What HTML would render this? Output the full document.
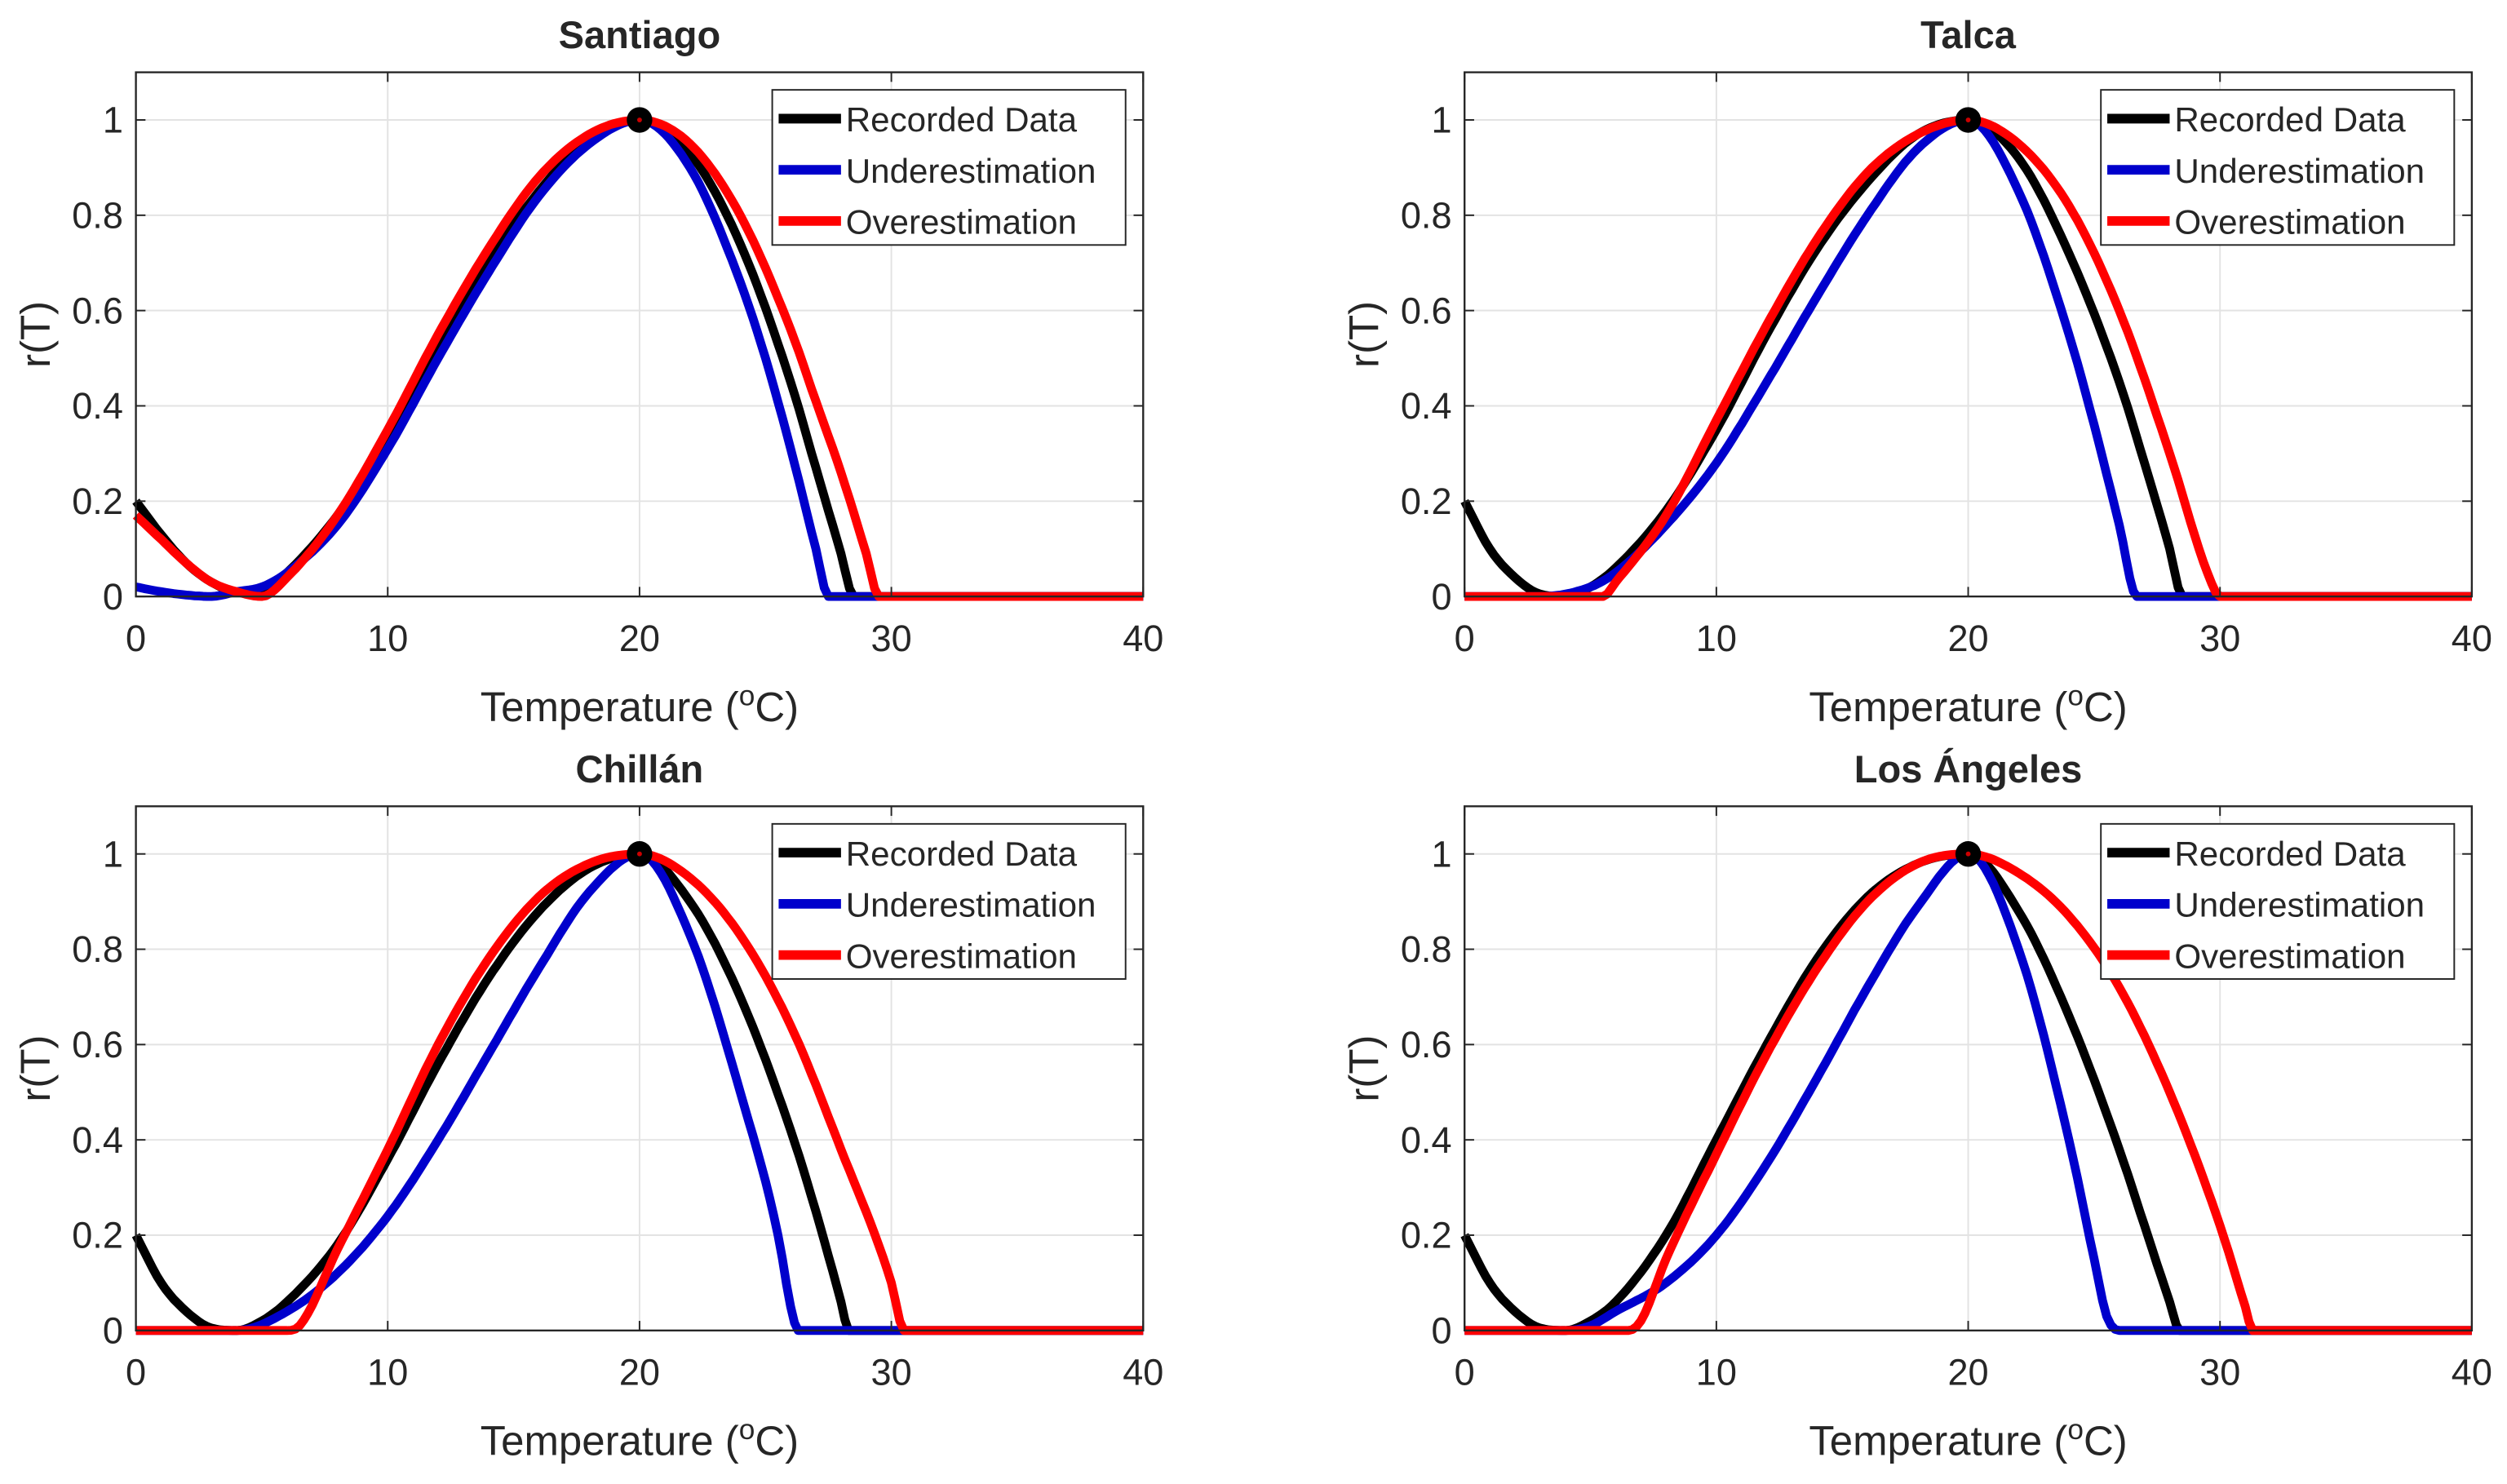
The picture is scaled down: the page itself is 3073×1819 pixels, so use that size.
<!DOCTYPE html>
<html><head><meta charset="utf-8"><style>
html,body{margin:0;padding:0;background:#fff}
svg{display:block}
text{font-family:"Liberation Sans",Arial,sans-serif;fill:#262626}
</style></head><body>
<svg id="fig" width="3073" height="1819" viewBox="0 0 1568 928" preserveAspectRatio="none" xmlns="http://www.w3.org/2000/svg"></svg>
<script>
// ---- data ----
const xTicks = [0,10,20,30,40];
const yTicks = [0,0.2,0.4,0.6,0.8,1];
const yTickLabels = ["0","0.2","0.4","0.6","0.8","1"];
const titles = ["Santiago","Talca","Chillán","Los Ángeles"];
const seriesNames = ["Recorded Data","Underestimation","Overestimation"];

const santRecT = [0,1,2,3,4,5,6,8,10,12,14,16,18,20,22,24,26,27,28,28.5,40];
const santRecR = [0.2,0.13,0.07,0.03,0.01,0.01,0.05,0.17,0.33,0.52,0.7,0.85,0.96,1,0.93,0.74,0.45,0.27,0.09,0,0];
const santUndT = [0,1,2,3,4,5,6,8,10,12,14,16,18,20,22,24,25,26,27,27.5,40];
const santUndR = [0.02,0.01,0.003,0,0.01,0.02,0.05,0.15,0.31,0.5,0.68,0.84,0.95,1,0.9,0.66,0.5,0.31,0.1,0,0];
const santOveT = [0,1,2,3,4,5,6,8,10,12,14,16,18,20,22,24,26,27,28,29,29.5,40];
const santOveR = [0.17,0.12,0.07,0.03,0.01,0.0,0.04,0.17,0.35,0.55,0.73,0.88,0.97,1,0.95,0.8,0.56,0.41,0.26,0.09,0,0];

const talRecT = [0,1,2,3,4,5,6,8,10,12,14,16,18,20,22,24,26,27,28,28.5,40];
const talRecR = [0.2,0.1,0.04,0.005,0,0.02,0.06,0.18,0.35,0.55,0.73,0.87,0.97,1,0.92,0.72,0.45,0.28,0.1,0,0];
const talUndT = [0,3,5,6,8,10,12,14,16,18,20,22,24,25,26,26.7,40];
const talUndR = [0,0,0.02,0.05,0.15,0.28,0.45,0.63,0.8,0.94,1,0.85,0.55,0.36,0.15,0,0];
const talOveT = [0,5.5,6,8,10,12,14,16,18,20,22,24,26,28,29.5,30,40];
const talOveR = [0,0,0.03,0.17,0.37,0.57,0.75,0.89,0.97,1,0.95,0.82,0.6,0.3,0.05,0,0];

const chiRecT = [0,1,2,3,4,5,6,8,10,12,14,16,18,20,22,24,26,27,28,28.3,40];
const chiRecR = [0.2,0.1,0.04,0.005,0,0.02,0.06,0.18,0.36,0.56,0.74,0.88,0.97,1,0.9,0.7,0.42,0.25,0.06,0,0];
const chiUndT = [0,4,6,8,10,12,14,16,18,20,22,24,25.5,26,26.3,40];
const chiUndR = [0,0,0.04,0.12,0.24,0.4,0.58,0.76,0.92,1,0.83,0.5,0.2,0.05,0,0];
const chiOveT = [0,6,6.5,8,10,12,14,16,18,20,22,24,26,28,30,30.5,40];
const chiOveR = [0,0,0.01,0.17,0.38,0.6,0.78,0.91,0.98,1,0.95,0.83,0.64,0.38,0.1,0,0];

const losRecT = [0,1,2,3,4,5,6,8,10,12,14,16,18,20,22,24,26,27,28,28.4,40];
const losRecR = [0.2,0.1,0.04,0.005,0,0.02,0.06,0.2,0.4,0.6,0.78,0.91,0.98,1,0.88,0.66,0.38,0.22,0.06,0,0];
const losUndT = [0,4,5,6,8,10,12,14,16,18,20,22,24,25,25.5,26,40];
const losUndR = [0,0,0.01,0.04,0.1,0.2,0.35,0.53,0.72,0.89,1,0.8,0.4,0.15,0.03,0,0];
const losOveT = [0,6.5,7,8,10,12,14,16,18,20,22,24,26,28,30,31,31.3,40];
const losOveR = [0,0,0.02,0.15,0.37,0.58,0.76,0.9,0.98,1,0.96,0.87,0.72,0.5,0.22,0.05,0,0];

const panelSeries = [
  [[santRecT,santRecR],[santUndT,santUndR],[santOveT,santOveR]],
  [[talRecT,talRecR],[talUndT,talUndR],[talOveT,talOveR]],
  [[chiRecT,chiRecR],[chiUndT,chiUndR],[chiOveT,chiOveR]],
  [[losRecT,losRecR],[losUndT,losUndR],[losOveT,losOveR]]
];
const colors = ["#000000","#0000cc","#ff0000"];
const panels = [{x0:85,y0:373},{x0:916,y0:373},{x0:85,y0:832},{x0:916,y0:832}];
const W = 630, H1 = 298;

const NS="http://www.w3.org/2000/svg";
const svg=document.getElementById('fig');
function mk(tag,attrs,parent){const e=document.createElementNS(NS,tag);for(const k in attrs)e.setAttribute(k,attrs[k]);(parent||svg).appendChild(e);return e;}
// monotone cubic (Fritsch–Carlson) interpolation, sampled densely
function monotone(xs,ys){
  const n=xs.length,d=[],m=new Array(n);
  for(let i=0;i<n-1;i++)d.push((ys[i+1]-ys[i])/(xs[i+1]-xs[i]));
  m[0]=d[0];m[n-1]=d[n-2];
  for(let i=1;i<n-1;i++)m[i]=(d[i-1]*d[i]<=0)?0:(d[i-1]+d[i])/2;
  for(let i=0;i<n-1;i++){
    if(d[i]===0){m[i]=0;m[i+1]=0;continue;}
    const a=m[i]/d[i],b=m[i+1]/d[i],s=a*a+b*b;
    if(s>9){const t=3/Math.sqrt(s);m[i]=t*a*d[i];m[i+1]=t*b*d[i];}
  }
  const out=[];
  for(let i=0;i<n-1;i++){
    const h=xs[i+1]-xs[i],N=Math.max(2,Math.ceil(h*6));
    for(let k=0;k<N;k++){
      const t=k/N,t2=t*t,t3=t2*t;
      const y=(2*t3-3*t2+1)*ys[i]+(t3-2*t2+t)*h*m[i]+(-2*t3+3*t2)*ys[i+1]+(t3-t2)*h*m[i+1];
      out.push([xs[i]+t*h,y]);
    }
  }
  out.push([xs[n-1],ys[n-1]]);
  return out;
}

panels.forEach((p,i)=>{
  const sx=t=>p.x0+t/40*W;
  const sy=v=>p.y0-v*H1;
  const g=mk('g',{});
  
  
  const top=sy(1.1);
  mk('rect',{x:p.x0,y:top,width:W,height:p.y0-top,fill:'#fff'},g);
  xTicks.forEach(t=>{const l=mk('line',{x1:sx(t),x2:sx(t),y1:top,y2:p.y0,stroke:'#e3e3e3','stroke-width':1},g);
    });
  yTicks.forEach(v=>{const l=mk('line',{x1:p.x0,x2:p.x0+W,y1:sy(v),y2:sy(v),stroke:'#e3e3e3','stroke-width':1},g);
    });
  panelSeries[i].forEach((s,k)=>{
    const pts=monotone(s[0],s[1]).map(q=>sx(q[0]).toFixed(1)+','+sy(q[1]).toFixed(1)).join(' ');
    const pl=mk('polyline',{points:pts,fill:'none',stroke:colors[k],'stroke-width':5.5,'stroke-linejoin':'round','stroke-linecap':'butt'},g);
    
    
  });
  const m=mk('circle',{cx:sx(20),cy:sy(1),r:8,fill:'#000'},g);
  
  mk('circle',{cx:sx(20),cy:sy(1),r:1.5,fill:'#c00'},g);
  const box=mk('rect',{x:p.x0,y:top,width:W,height:p.y0-top,fill:'none',stroke:'#262626','stroke-width':1.2},g);
  
  xTicks.forEach(t=>{mk('line',{x1:sx(t),x2:sx(t),y1:p.y0,y2:p.y0-6,stroke:'#262626','stroke-width':1},g);
    mk('line',{x1:sx(t),x2:sx(t),y1:top,y2:top+6,stroke:'#262626','stroke-width':1},g);
    const tx=mk('text',{x:sx(t),y:p.y0+34,'text-anchor':'middle','font-size':23},g);tx.textContent=t;
    });
  yTicks.forEach((v,j)=>{mk('line',{x1:p.x0,x2:p.x0+6,y1:sy(v),y2:sy(v),stroke:'#262626','stroke-width':1},g);
    mk('line',{x1:p.x0+W,x2:p.x0+W-6,y1:sy(v),y2:sy(v),stroke:'#262626','stroke-width':1},g);
    const tx=mk('text',{x:p.x0-8,y:sy(v)+8,'text-anchor':'end','font-size':23},g);tx.textContent=yTickLabels[j];
    });
  const tt=mk('text',{x:sx(20),y:top-15,'text-anchor':'middle','font-size':24,'font-weight':'bold',fill:'#000'},g);
  tt.textContent=titles[i];
  const xl=mk('text',{x:sx(20),y:p.y0+78,'text-anchor':'middle','font-size':26},g);
  const a=mk('tspan',{},xl);a.textContent='Temperature (';
  const b=mk('tspan',{dy:-10,'font-size':18},xl);b.textContent='o';
  const c=mk('tspan',{dy:10},xl);c.textContent='C)';
  
  const yl=mk('text',{x:0,y:0,'text-anchor':'middle','font-size':26,transform:`translate(${p.x0-54},${sy(0.55)}) rotate(-90)`},g);
  yl.textContent='r(T)';
  const lx=p.x0+398, ly=top+11;
  const lg=mk('g',{},g);
  mk('rect',{x:lx,y:ly,width:221,height:97,fill:'#fff',stroke:'#262626','stroke-width':1},lg);
  seriesNames.forEach((n,k)=>{
    const yy=ly+18+k*32;
    const ln=mk('line',{x1:lx+4,x2:lx+43,y1:yy,y2:yy,stroke:colors[k],'stroke-width':6},lg);
    
    const tx=mk('text',{x:lx+46,y:yy+8,'font-size':21.5,fill:'#000'},lg);tx.textContent=n;
    
  });
});
</script>
</body></html>
